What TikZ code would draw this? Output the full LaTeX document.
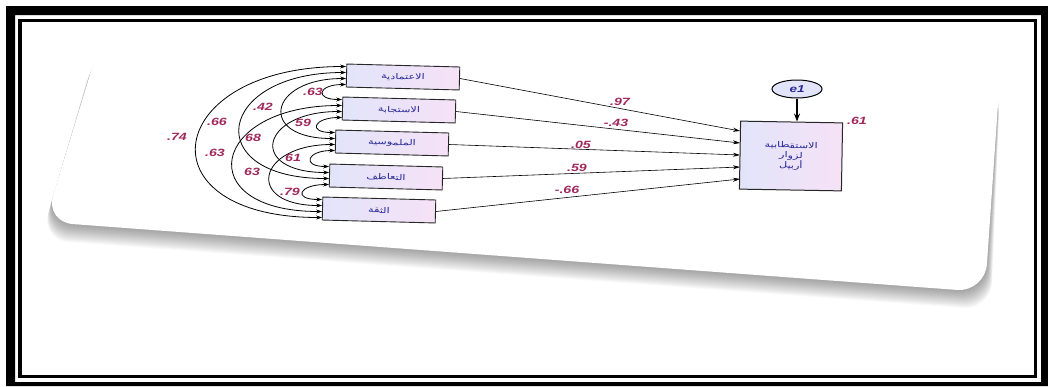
\documentclass[tikz,border=0pt]{standalone}
\usepackage{fontspec}
\setmainfont{Liberation Sans}
\newfontfamily\arabicfont[Script=Arabic,FakeStretch=1.4]{DejaVu Sans}
\newfontfamily\lblfont[FakeStretch=1.35]{Liberation Sans}
\TeXXeTstate=1
\usetikzlibrary{arrows.meta,shapes.geometric}
\definecolor{labelc}{RGB}{160,40,92}
\definecolor{bluetxt}{RGB}{40,40,150}
\definecolor{boxl}{RGB}{226,228,250}
\definecolor{boxr}{RGB}{246,226,246}
\begin{document}
\begin{tikzpicture}[x=1pt,y=-1pt,
  varbox/.style={draw=black!85, line width=0.9pt, left color=boxl, right color=boxr,
    minimum width=113pt, minimum height=23pt, inner sep=0pt, rotate=-1.5,
    font=\arabicfont\fontsize{8}{9}\selectfont, text=bluetxt},
  depbox/.style={draw=black!85, line width=1pt, left color=boxl, right color=boxr,
    minimum width=102pt, minimum height=68pt, inner sep=0pt, rotate=-1, align=center,
    font=\arabicfont\fontsize{8}{10}\selectfont, text=bluetxt},
  errnode/.style={ellipse, draw=black, line width=1pt, fill=boxl, minimum width=50pt,
    minimum height=18pt, inner sep=0pt, font=\lblfont\bfseries\itshape\fontsize{10}{11}\selectfont, text=bluetxt},
  lbl/.style={text=labelc, inner sep=0pt, font=\lblfont\bfseries\itshape\fontsize{10.5}{11}\selectfont},
  corr/.style={line width=0.8pt, black, {Stealth[length=6pt,width=4pt]}-{Stealth[length=6pt,width=4pt]}},
  path/.style={line width=0.6pt, black, -{Stealth[length=7pt,width=4pt]}},
  frameline/.style={draw=black, line width=3.5pt}]
\useasboundingbox (0,0) rectangle (1048,386);
% frame
\fill[black, even odd rule] (6,6) rectangle (1048,386) (15,15) rectangle (1041,382);
\draw[frameline] (20,20.5) rectangle (1035.5,376.5);
% card shadow
\foreach \o in {1,2,...,18}{
  \fill[black, opacity=0.025, rounded corners=28pt] ({100-\o/3},{42+\o*0.8}) -- (1000,{75+\o*0.8}) -- ({985+\o/3},{292+\o}) -- ({45-\o/4},{222+\o}) -- cycle;
}
\fill[white, rounded corners=28pt] (100,42) -- (1000,75) -- (985,292) -- (45,222) -- cycle;
% boxes
\node[varbox] (b1) at (403,77) {\beginR الاعتمادية\endR};
\node[varbox] (b2) at (399,110) {\beginR الاستجابة\endR};
\node[varbox] (b3) at (392,143) {\beginR الملموسية\endR};
\node[varbox] (b4) at (386,177) {\beginR التعاطف\endR};
\node[varbox] (b5) at (379,210) {\beginR الثقة\endR};
\node[depbox] (dep) at (791,156) {\beginR الاستقطابية\endR\\\beginR لزوار\endR\\\beginR أربيل\endR};
\node[errnode] (e1) at (797,89) {e1};
\draw[line width=1.2pt, -{Stealth[length=8pt,width=6pt]}] (e1) -- (dep.north -| e1);
\node[lbl] (r2) at (857,121) {.61};
% correlations
\draw[corr] ([yshift=-9pt]b1.west) .. controls +(-28,0) and +(-28,0) .. ([yshift=9pt]b2.west);
\draw[corr] ([yshift=-9pt]b2.west) .. controls +(-28,0) and +(-28,0) .. ([yshift=9pt]b3.west);
\draw[corr] ([yshift=-9pt]b3.west) .. controls +(-28,0) and +(-28,0) .. ([yshift=9pt]b4.west);
\draw[corr] ([yshift=-9pt]b4.west) .. controls +(-30,0) and +(-30,0) .. ([yshift=9pt]b5.west);
\draw[corr] ([yshift=-3pt]b1.west) .. controls +(-78,0) and +(-78,0) .. ([yshift=3pt]b3.west);
\draw[corr] ([yshift=-3pt]b2.west) .. controls +(-82,0) and +(-82,0) .. ([yshift=3pt]b4.west);
\draw[corr] ([yshift=-3pt]b3.west) .. controls +(-78,0) and +(-78,0) .. ([yshift=3pt]b5.west);
\draw[corr] ([yshift=3pt]b1.west) .. controls +(-130,0) and +(-130,0) .. ([yshift=-3pt]b4.west);
\draw[corr] ([yshift=3pt]b2.west) .. controls +(-132,0) and +(-132,0) .. ([yshift=-3pt]b5.west);
\draw[corr] ([yshift=9pt]b1.west) .. controls +(-183,0) and +(-183,0) .. ([yshift=-9pt]b5.west);
\node[lbl] (c12) at (313,92) {.63};
\node[lbl] (c13) at (263,107) {.42};
\node[lbl] (c23) at (303,123) {59};
\node[lbl] (c14) at (217,122) {.66};
\node[lbl] (c15) at (177,137) {.74};
\node[lbl] (c24) at (253,138) {68};
\node[lbl] (c25) at (215,153) {.63};
\node[lbl] (c34) at (293,158) {61};
\node[lbl] (c35) at (252,172) {63};
\node[lbl] (c45) at (290,192) {.79};
% paths
\coordinate (d1) at (740,131);
\coordinate (d2) at (740,143);
\coordinate (d3) at (740,155);
\coordinate (d4) at (740,167);
\coordinate (d5) at (740,179);
\draw[path] (b1.east) -- (d1);
\draw[path] (b2.east) -- (d2);
\draw[path] (b3.east) -- (d3);
\draw[path] (b4.east) -- (d4);
\draw[path] (b5.east) -- (d5);
\node[lbl] (p1) at (620,102) {.97};
\node[lbl] (p2) at (616,123) {-.43};
\node[lbl] (p3) at (581,145) {.05};
\node[lbl] (p4) at (577,168) {.59};
\node[lbl] (p5) at (567,190) {-.66};
\end{tikzpicture}
\end{document}
